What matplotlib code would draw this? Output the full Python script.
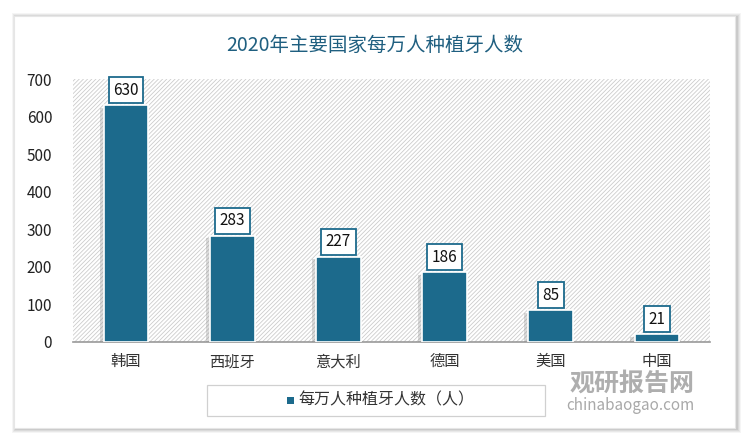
import matplotlib
matplotlib.use("Agg")
import matplotlib.pyplot as plt
from matplotlib.patches import Rectangle
import matplotlib.patheffects as pe

plt.rcParams['font.family'] = ['Noto Sans CJK SC', 'DejaVu Sans']
plt.rcParams['hatch.linewidth'] = 0.6

categories = ['韩国', '西班牙', '意大利', '德国', '美国', '中国']
values = [630, 283, 227, 186, 85, 21]
yticks = [0, 100, 200, 300, 400, 500, 600, 700]
title = '2020年主要国家每万人种植牙人数'
series_name = '每万人种植牙人数（人）'

bar_color = '#1c6a8c'
W, H = 750, 445
fig = plt.figure(figsize=(7.5, 4.45), dpi=100)
fig.patch.set_facecolor('white')

def fx(x): return x / W
def fy(y): return 1 - y / H

# card shadow and card
for i, a in enumerate([0.04, 0.05, 0.06, 0.07]):
    d = 4 - i
    fig.patches.append(Rectangle((fx(14 - d + 2), fy(428 + d + 1)), (721 + 2 * d) / W, (412 + 2 * d) / H,
                                 transform=fig.transFigure, facecolor='black', alpha=a, lw=0, zorder=0))
fig.patches.append(Rectangle((fx(14), fy(428)), 721 / W, 412 / H, transform=fig.transFigure,
                             facecolor='white', edgecolor='#e6e6e6', lw=0.8, zorder=1))

ax = fig.add_axes([fx(73), fy(342), (710 - 73) / W, (342 - 79) / H])
ax.set_facecolor('none')
ax.set_zorder(2)
x = list(range(len(categories)))
ax.set_xlim(-0.5, len(categories) - 0.5)
ax.set_ylim(0, 700)

# hatched background
ax.add_patch(Rectangle((0, 0), 1, 1, transform=ax.transAxes, facecolor='white',
                       edgecolor='#cccccc', hatch='////////', lw=0, zorder=0))

bars = ax.bar(x, values, width=0.42, color=bar_color, edgecolor='white', linewidth=1.2, zorder=3)
for b in bars:
    b.set_path_effects([pe.SimplePatchShadow(offset=(-3, -2), shadow_rgbFace='#888888', alpha=0.3),
                        pe.Normal()])

for xi, v in zip(x, values):
    ax.annotate(str(v), (xi, v), xytext=(0, 15), textcoords='offset pixels', ha='center', va='center',
                fontsize=11, color='#111111', zorder=5,
                bbox=dict(boxstyle='square,pad=0.3', facecolor='white', edgecolor=bar_color, lw=1.3))

for s in ['top', 'right', 'left']:
    ax.spines[s].set_visible(False)
ax.spines['bottom'].set_color('#999999')
ax.spines['bottom'].set_linewidth(1.2)
ax.set_yticks(yticks)
ax.set_yticklabels([str(t) for t in yticks], fontsize=11, color='#222222')
ax.set_xticks(x)
ax.set_xticklabels(categories, fontsize=11, color='#333333')
ax.tick_params(axis='y', length=0, pad=15)
ax.tick_params(axis='x', length=0, pad=8)

fig.text(fx(375), fy(45), title, ha='center', va='center', fontsize=14, color='#1f5f80', zorder=3)

# legend box
fig.patches.append(Rectangle((fx(207), fy(416)), (545 - 207) / W, 31 / H, transform=fig.transFigure,
                             facecolor='white', edgecolor='#d0d0d0', lw=0.9, zorder=3))
fig.patches.append(Rectangle((fx(287), fy(404)), 7 / W, 7 / H, transform=fig.transFigure,
                             facecolor=bar_color, lw=0, zorder=4))
fig.text(fx(298), fy(400), series_name, ha='left', va='center', fontsize=11.5, color='#333333', zorder=4)

# watermark
fig.text(fx(570), fy(384), '观研报告网', ha='left', va='center', fontsize=18, fontweight='bold',
         color='#9a9a9a', alpha=0.8, zorder=6)
fig.text(fx(566), fy(405), 'chinabaogao.com', ha='left', va='center', fontsize=11,
         color='#9a9a9a', alpha=0.85, zorder=6)

fig.savefig('out.png', dpi=100, facecolor=fig.get_facecolor())
